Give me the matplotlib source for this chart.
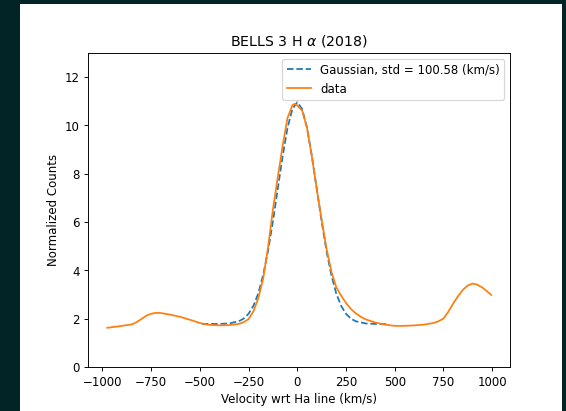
import matplotlib
matplotlib.use("Agg")
import matplotlib.pyplot as plt
from matplotlib.patches import Rectangle

# observed line profile (km/s, normalized counts)
velocity = [-975, -925, -875, -850, -825, -800, -775, -750, -725, -700,
            -650, -600, -550, -500, -475, -450, -400, -350, -300, -275,
            -250, -225, -200, -175, -150, -125, -100, -75, -50, -25,
            -15, 0, 25, 50, 75, 100, 125, 150, 175, 200,
            225, 250, 275, 300, 325, 350, 400, 450, 500, 550,
            600, 650, 700, 725, 750, 775, 800, 825, 850, 875,
            900, 925, 950, 975, 995]
counts = [1.62, 1.67, 1.73, 1.76, 1.85, 1.98, 2.12, 2.20, 2.24, 2.23,
          2.16, 2.07, 1.95, 1.82, 1.77, 1.74, 1.72, 1.73, 1.78, 1.85,
          1.98, 2.30, 2.85, 3.65, 4.95, 6.50, 7.85, 9.15, 10.30, 10.82,
          10.88, 10.82, 10.60, 9.90, 8.70, 7.35, 6.10, 4.90, 3.95, 3.30,
          2.95, 2.65, 2.40, 2.22, 2.08, 1.97, 1.84, 1.75, 1.70, 1.70,
          1.72, 1.75, 1.82, 1.89, 2.00, 2.28, 2.62, 2.93, 3.19, 3.37,
          3.45, 3.40, 3.28, 3.12, 2.98]

# gaussian fit curve as drawn
fit_velocity = [-490, -450, -400, -350, -300, -275, -250, -225, -200, -175,
                -150, -125, -100, -75, -50, -25, 0, 25, 50, 75,
                100, 125, 150, 175, 200, 225, 250, 275, 300, 350,
                400, 470]
fit_counts = [1.78, 1.78, 1.78, 1.80, 1.89, 2.00, 2.20, 2.53, 3.04, 3.80,
              4.80, 6.02, 7.37, 8.72, 9.89, 10.67, 10.95, 10.67, 9.89, 8.72,
              7.37, 6.02, 4.80, 3.80, 3.04, 2.53, 2.20, 2.00, 1.89, 1.80,
              1.78, 1.77]

dpi = 84.7
fig = plt.figure(figsize=(566.4 / dpi, 411.4 / dpi), dpi=dpi, facecolor="#032427")
fig.patches.append(Rectangle((20 / 566, 0), 542 / 566, 407 / 411,
                             transform=fig.transFigure, facecolor="white",
                             edgecolor="none", zorder=-5))

ax = fig.add_axes([88 / 566, 44 / 411, 422 / 566, 314 / 411])
ax.plot(fit_velocity, fit_counts, "--", label="Gaussian, std = 100.58 (km/s)")
ax.plot(velocity, counts, label="data")
ax.set_ylim(0, 13)
ax.set_title(r"BELLS 3 H $\alpha$ (2018)")
ax.set_xlabel("Velocity wrt Ha line (km/s)")
ax.set_ylabel("Normalized Counts")
ax.legend(loc="upper right")

fig.savefig("out.png", dpi=dpi, facecolor=fig.get_facecolor())
